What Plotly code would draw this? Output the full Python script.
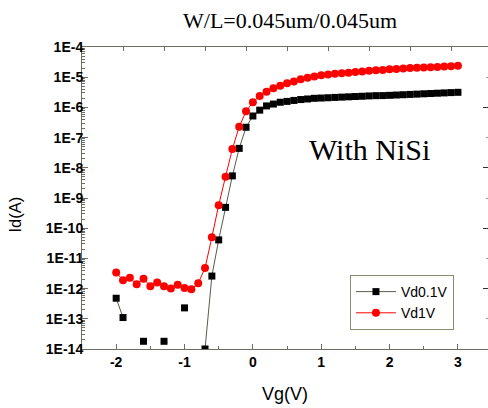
import plotly.graph_objects as go

vg = [-2.0, -1.9, -1.8, -1.7, -1.6, -1.5, -1.4, -1.3, -1.2, -1.1,
      -1.0, -0.9, -0.8, -0.7, -0.6, -0.5, -0.4, -0.3, -0.2, -0.1,
      0.0, 0.1, 0.2, 0.3, 0.4, 0.5, 0.6, 0.7, 0.8, 0.9,
      1.0, 1.1, 1.2, 1.3, 1.4, 1.5, 1.6, 1.7, 1.8, 1.9,
      2.0, 2.1, 2.2, 2.3, 2.4, 2.5, 2.6, 2.7, 2.8, 2.9, 3.0]

id_vd01 = [4.8e-13, 1.1e-13, None, None, 1.8e-14, None, None, 1.8e-14, None, None,
           2.3e-13, None, None, 1.0e-14, 2.6e-12, 4.1e-11, 4.9e-10, 5.4e-9, 4.4e-8, 2.2e-7,
           5.2e-7, 8.1e-7, 1.12e-6, 1.29e-6, 1.48e-6, 1.58e-6, 1.70e-6, 1.82e-6, 1.90e-6, 2.00e-6,
           2.04e-6, 2.09e-6, 2.14e-6, 2.19e-6, 2.24e-6, 2.29e-6, 2.34e-6, 2.40e-6, 2.45e-6, 2.46e-6,
           2.51e-6, 2.57e-6, 2.63e-6, 2.69e-6, 2.75e-6, 2.82e-6, 2.88e-6, 2.95e-6, 3.02e-6, 3.09e-6, 3.16e-6]

id_vd1 = [3.4e-12, 1.9e-12, 2.3e-12, 1.4e-12, 2.1e-12, 1.2e-12, 1.6e-12, 1.2e-12, 1.0e-12, 1.35e-12,
          1.05e-12, 9.5e-13, 1.5e-12, 4.8e-12, 5.0e-11, 5.8e-10, 5.1e-9, 4.2e-8, 2.3e-7, 7.4e-7,
          1.48e-6, 2.4e-6, 3.3e-6, 4.3e-6, 5.2e-6, 6.3e-6, 7.2e-6, 8.5e-6, 9.5e-6, 1.05e-5,
          1.15e-5, 1.23e-5, 1.29e-5, 1.35e-5, 1.41e-5, 1.48e-5, 1.55e-5, 1.62e-5, 1.70e-5, 1.74e-5,
          1.82e-5, 1.86e-5, 1.95e-5, 2.0e-5, 2.04e-5, 2.09e-5, 2.14e-5, 2.19e-5, 2.24e-5, 2.29e-5, 2.4e-5]

y_exponents = [-14, -13, -12, -11, -10, -9, -8, -7, -6, -5, -4]
y_ticktext = ["1E%d" % e for e in y_exponents]
x_ticks = [-2, -1, 0, 1, 2, 3]
x_ticktext = ["-2", "-1", "0", "1", "2", "3"]
top_ticks = [-1.9, -1.3, -0.7, -0.1, 0.5, 1.1, 1.7, 2.3, 2.9]

y_major = [10.0 ** e for e in y_exponents]
y_minor = [k * 10.0 ** e for e in y_exponents[:-1] for k in range(2, 10)]

AX = "#6e6e60"
SANS = "Liberation Sans, Arial"
SERIF = "Liberation Serif, Times New Roman"

fig = go.Figure()
fig.add_trace(go.Scatter(
    x=vg, y=id_vd01, name="Vd0.1V", mode="lines+markers",
    line=dict(color="#5a5a4a", width=1),
    marker=dict(symbol="square", size=7, color="black"),
    connectgaps=False,
))
fig.add_trace(go.Scatter(
    x=vg, y=id_vd1, name="Vd1V", mode="lines+markers",
    line=dict(color="red", width=1),
    marker=dict(symbol="circle", size=8, color="red"),
))
# empty trace so that the frame's top and right axes are drawn
fig.add_trace(go.Scatter(x=[None], y=[None], xaxis="x2", yaxis="y2",
                         showlegend=False, hoverinfo="skip", mode="markers"))

fig.update_layout(
    width=488, height=408,
    margin=dict(l=82, r=0, t=47, b=59),
    paper_bgcolor="white", plot_bgcolor="white",
    showlegend=True,
    legend=dict(x=0.66, y=0.245, xanchor="left", yanchor="top",
                bordercolor="#8b8b70", borderwidth=1, bgcolor="white",
                font=dict(family=SANS, size=14, color="black"),
                tracegroupgap=0, itemwidth=40),
    xaxis=dict(range=[-2.5, 3.44], tickvals=x_ticks, ticktext=x_ticktext,
               ticks="inside", ticklen=5, tickcolor=AX, showline=True, linecolor=AX,
               linewidth=1, mirror=False, showgrid=False, zeroline=False,
               tickfont=dict(family=SANS, size=14, color="black", weight="bold"),
               minor=dict(ticks="inside", ticklen=3, tickcolor=AX, dtick=0.5),
               title=dict(text="Vg(V)", font=dict(family=SANS, size=18, color="black"), standoff=18)),
    xaxis2=dict(overlaying="x", side="top", range=[-2.5, 3.44], tickvals=top_ticks,
                showticklabels=False, ticks="inside", ticklen=4, tickcolor=AX,
                showline=True, linecolor=AX, linewidth=1, showgrid=False, zeroline=False),
    yaxis=dict(type="log", range=[-14, -4], tickvals=y_major, ticktext=y_ticktext,
               ticks="inside", ticklen=6, tickcolor=AX, showline=True, linecolor=AX,
               linewidth=1, showgrid=False, zeroline=False, ticklabelstandoff=-5,
               tickfont=dict(family=SANS, size=14, color="black", weight="bold"),
               minor=dict(ticks="inside", ticklen=3, tickcolor=AX, tickvals=y_minor)),
    yaxis2=dict(overlaying="y", side="right", type="log", range=[-14, -4],
                tickvals=[10.0 ** e for e in y_exponents if e % 2 == 0], showticklabels=False,
                ticks="inside", ticklen=5, tickcolor="#333", showline=False, showgrid=False,
                zeroline=False,
                minor=dict(ticks="inside", ticklen=2, tickcolor="#999",
                           tickvals=[10.0 ** e for e in y_exponents if e % 2 != 0])),
)

fig.add_annotation(text="Id(A)", xref="paper", yref="paper",
                   x=-0.165, y=0.445, xanchor="center", yanchor="middle", showarrow=False,
                   textangle=-90, font=dict(family=SANS, size=16.5, color="black"))
fig.add_annotation(text="W/L=0.045um/0.045um", xref="paper", yref="paper",
                   x=0.512, y=1.089, xanchor="center", yanchor="middle", showarrow=False,
                   font=dict(family=SERIF, size=22, color="black"))
fig.add_annotation(text="With NiSi", xref="paper", yref="paper",
                   x=0.709, y=0.659, xanchor="center", yanchor="middle", showarrow=False,
                   font=dict(family=SERIF, size=30, color="black"))

fig.write_html("out.html")
